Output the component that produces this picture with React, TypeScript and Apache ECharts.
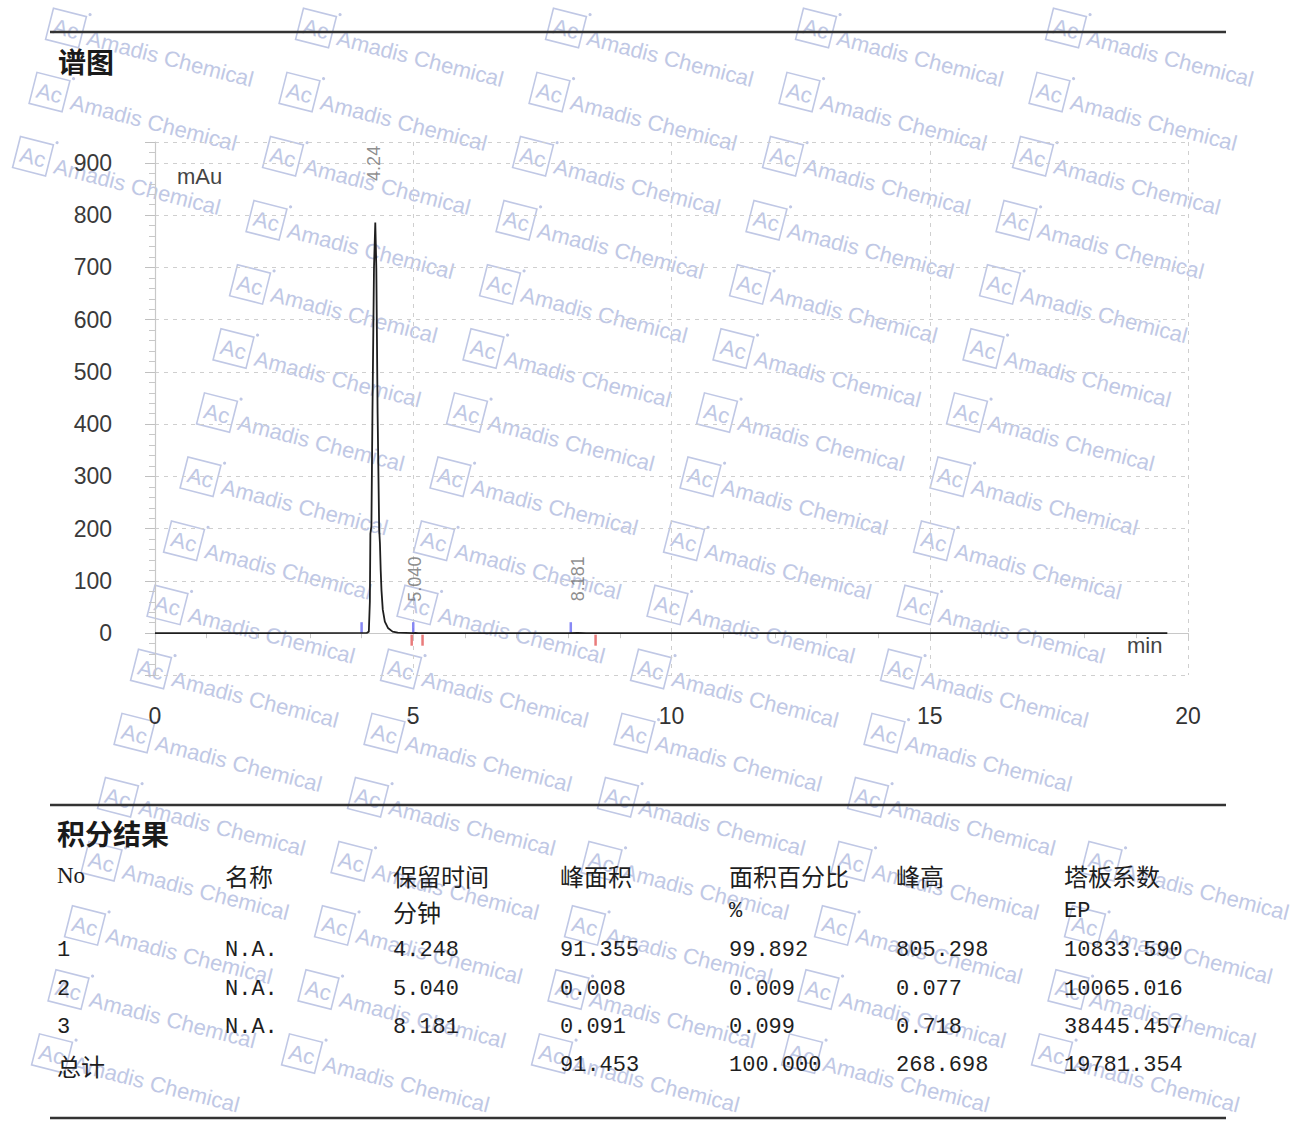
import React, { useEffect, useRef } from "react";
import * as echarts from "echarts";

// ---- chromatogram data (min, mAu) ----
const timeMin = [0, 4.1, 4.14, 4.16, 4.17, 4.19, 4.21, 4.24, 4.265, 4.285, 4.31, 4.34, 4.355, 4.37, 4.385, 4.41, 4.45, 4.51, 4.6, 4.7, 5.0, 5.04, 5.1, 8.0, 8.18, 8.35, 19.6];
const signalMAu = [0, 0.5, 3, 60, 190, 205, 420, 700, 786, 700, 420, 200, 172, 120, 82, 45, 22, 10, 3, 1, 0.3, 0.4, 0.2, 0.1, 0.8, 0.1, 0];

// peak annotations
const peakRT = [4.248, 5.04, 8.181];
const peakTop = [805.298, 0.077, 0.718];
const peakLabel = ["4.24", "5.040", "8.181"];
const peakStart = [4.0, 5.0, 8.05];
const peakEnd = [4.97, 5.18, 8.53];

// ---- integration table ----
const colHeaders = ["No", "名称", "保留时间", "峰面积", "面积百分比", "峰高", "塔板系数"];
const colUnits = ["", "", "分钟", "", "%", "", "EP"];
const rowNo = ["1", "2", "3", "总计"];
const rowName = ["N.A.", "N.A.", "N.A.", ""];
const rowRT = ["4.248", "5.040", "8.181", ""];
const rowArea = ["91.355", "0.008", "0.091", "91.453"];
const rowAreaPct = ["99.892", "0.009", "0.099", "100.000"];
const rowHeight = ["805.298", "0.077", "0.718", "268.698"];
const rowPlates = ["10833.590", "10065.016", "38445.457", "19781.354"];

const CJK = '"Noto Sans CJK SC", "Noto Sans", sans-serif';
const MONO = '"Liberation Mono", "DejaVu Sans Mono", monospace';
const SANS = '"Liberation Sans", Arial, sans-serif';
const WM = "#c0c8e5";

function buildWatermark() {
  const out: any[] = [];
  for (let r = -1; r <= 18; r++) {
    for (let c = -1; c <= 6; c++) {
      const cx = 316 + 250 * (c - 1) - 16.5 * r;
      const cy = 28 + 64.1 * r;
      // keep only units that are entirely on the page
      if (cx - 22 < 0 || cx + 198 > 1303 || cy - 20 < 0 || cy + 64 > 1142) continue;
      out.push({
        type: "group",
        x: cx,
        y: cy,
        rotation: -0.25,
        silent: true,
        z: 0,
        children: [
          { type: "rect", shape: { x: -17, y: -16, width: 34, height: 32 }, style: { fill: "none", stroke: WM, lineWidth: 1.6 } },
          { type: "text", x: 0, y: 1, style: { text: "Ac", fill: WM, font: `22px ${SANS}`, align: "center", verticalAlign: "middle" } },
          { type: "circle", shape: { cx: 20, cy: -19, r: 1.6 }, style: { fill: WM } },
          { type: "text", x: 23, y: 4, style: { text: "Amadis Chemical", fill: WM, font: `22px ${SANS}`, align: "left", verticalAlign: "middle" } },
        ],
      });
    }
  }
  return out;
}

function buildTable() {
  const out: any[] = [];
  const colX = [57, 225, 393, 560, 729, 896, 1064];
  const txt = (x: number, y: number, s: string, font: string) => ({
    type: "text",
    x,
    y,
    z: 10,
    style: { text: s, fill: "#1e1e1e", font, align: "left", verticalAlign: "middle" },
  });
  colHeaders.forEach((h, i) => {
    out.push(txt(colX[i], 875, h, i === 0 ? `23px "Liberation Serif", serif` : `24px ${CJK}`));
  });
  colUnits.forEach((u, i) => {
    if (!u) return;
    out.push(txt(colX[i], 911, u, u === "分钟" ? `24px ${CJK}` : `22px ${MONO}`));
  });
  const rowY = [950, 989, 1027, 1065];
  const cols = [rowNo, rowName, rowRT, rowArea, rowAreaPct, rowHeight, rowPlates];
  cols.forEach((col, ci) => {
    col.forEach((v, ri) => {
      if (!v) return;
      const isCjk = /[\u4e00-\u9fff]/.test(v);
      out.push(txt(colX[ci], rowY[ri], v, isCjk ? `24px ${CJK}` : `22px ${MONO}`));
    });
  });
  return out;
}

export default function App() {
  const ref = useRef<HTMLDivElement>(null);
  useEffect(() => {
    document.body.style.margin = "0";
    if (!ref.current) return;
    const chart = echarts.init(ref.current, undefined, { renderer: "svg" });
    const rule = (y: number) => ({
      type: "line",
      z: 10,
      shape: { x1: 50, y1: y, x2: 1226, y2: y },
      style: { stroke: "#333", lineWidth: 2.6 },
    });
    const option: any = {
      animation: false,
      backgroundColor: "#fff",
      grid: { left: 155, right: 115, top: 142, bottom: 467 },
      xAxis: {
        type: "value",
        min: 0,
        max: 20,
        interval: 5,
        axisLine: { show: true, lineStyle: { color: "#c8c8c8", width: 1.2 } },
        axisTick: { show: true, length: 7, lineStyle: { color: "#c8c8c8" } },
        minorTick: { show: true, splitNumber: 5, length: 5, lineStyle: { color: "#c8c8c8" } },
        axisLabel: { margin: 29, fontSize: 23, color: "#333", fontFamily: SANS },
        splitLine: { show: true, lineStyle: { color: "#cfcfcf", type: [4, 5], width: 1 } },
      },
      yAxis: {
        type: "value",
        min: -80,
        max: 940,
        splitNumber: 10,
        offset: 10,
        axisLine: { show: true, lineStyle: { color: "#c8c8c8", width: 1.2 } },
        axisTick: { show: true, length: 10, lineStyle: { color: "#c0c0c0" } },
        minorTick: { show: true, splitNumber: 5, length: 6, lineStyle: { color: "#c8c8c8" } },
        axisLabel: {
          margin: 33,
          fontSize: 23,
          color: "#3a3a3a",
          fontFamily: SANS,
          showMinLabel: false,
          showMaxLabel: false,
          formatter: (v: number) => (v < 0 || v > 900 ? "" : String(v)),
        },
        splitLine: { show: true, lineStyle: { color: "#cfcfcf", type: [4, 5], width: 1 } },
      },
      series: [
        {
          type: "line",
          data: timeMin.map((t, i) => [t, signalMAu[i]]),
          showSymbol: false,
          symbol: "none",
          lineStyle: { color: "#1e1e1e", width: 1.8 },
          z: 5,
        },
        {
          type: "scatter",
          data: peakStart.map((t) => [t, 0]),
          symbol: "rect",
          symbolSize: [2.5, 11],
          symbolOffset: [0, -5.5],
          itemStyle: { color: "#6a6cf2" },
          z: 4,
        },
        {
          type: "scatter",
          data: peakEnd.map((t) => [t, 0]),
          symbol: "rect",
          symbolSize: [2.5, 11],
          symbolOffset: [0, 7],
          itemStyle: { color: "#e45a5a" },
          z: 4,
        },
        {
          type: "scatter",
          data: peakRT.map((t, i) => ({ value: [t, peakTop[i]], name: peakLabel[i] })),
          symbolSize: 1,
          itemStyle: { color: "transparent" },
          label: {
            show: true,
            formatter: "{b}",
            position: "top",
            distance: 31,
            rotate: 90,
            align: "left",
            verticalAlign: "middle",
            color: "#707070",
            fontSize: 18,
            fontFamily: SANS,
          },
          z: 6,
        },
      ],
      graphic: [
        ...buildWatermark(),
        rule(32),
        rule(805),
        rule(1118),
        {
          type: "text",
          x: 58,
          y: 61,
          z: 10,
          style: { text: "谱图", fill: "#1a1a1a", font: `bold 28px ${CJK}`, align: "left", verticalAlign: "middle" },
        },
        {
          type: "text",
          x: 57,
          y: 833,
          z: 10,
          style: { text: "积分结果", fill: "#1a1a1a", font: `bold 28px ${CJK}`, align: "left", verticalAlign: "middle" },
        },
        {
          type: "text",
          x: 177,
          y: 176,
          z: 10,
          style: { text: "mAu", fill: "#444", font: `22px ${SANS}`, align: "left", verticalAlign: "middle" },
        },
        {
          type: "text",
          x: 1127,
          y: 645,
          z: 10,
          style: { text: "min", fill: "#444", font: `22px ${SANS}`, align: "left", verticalAlign: "middle" },
        },
        ...buildTable(),
      ],
    };
    chart.setOption(option);
    return () => chart.dispose();
  }, []);
  return <div ref={ref} style={{ position: "absolute", left: 0, top: 0, width: 1303, height: 1142 }} />;
}
